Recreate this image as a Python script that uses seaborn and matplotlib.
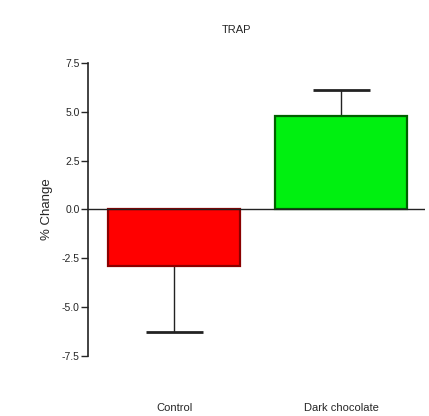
import numpy as np
import matplotlib
matplotlib.use("Agg")
import matplotlib.pyplot as plt
import seaborn as sns

# data
groups = ["Control", "Dark chocolate"]
means = [-2.87, 4.77]
err_ends = [-6.25, 6.10]   # tip of the one-sided error bar
bar_colors = ["#ff0000", "#00f010"]
edge_colors = ["#8a0000", "#006000"]
yticks = [-7.5, -5.0, -2.5, 0.0, 2.5, 5.0, 7.5]

sns.set_style("white")
plt.rcParams['font.family'] = ['Liberation Sans', 'DejaVu Sans']

fig = plt.figure(figsize=(4.29, 4.16), dpi=100)
ax = fig.add_axes([88 / 429, 1 - 356 / 416, (425 - 88) / 429, (356 - 63) / 416])

sns.barplot(x=groups, y=means, hue=groups, palette=bar_colors, legend=False,
            width=0.79, ax=ax, saturation=1, zorder=2)
for patch, ec in zip(ax.patches, edge_colors):
    patch.set_edgecolor(ec)
    patch.set_linewidth(1.6)

# one-sided error bars (away from zero)
xpos = np.arange(len(groups))
ax.vlines(xpos, means, err_ends, color="#222222", lw=1.0, zorder=1)
ax.hlines(err_ends, xpos - 0.17, xpos + 0.17, color="#222222", lw=2.0, zorder=1)
ax.axhline(0, color="#222222", lw=1.0, zorder=3)

ax.set_xlim(-0.515, 1.5)
ax.set_ylim(-7.5, 7.5)
ax.set_yticks(yticks)
ax.set_yticklabels([f"{v:.1f}" for v in yticks], fontsize=7.5)
ax.tick_params(axis="y", direction="out", length=5, width=1, left=True, pad=1)
ax.tick_params(axis="x", length=0, pad=34, labelsize=8)
for s in ["top", "right", "bottom"]:
    ax.spines[s].set_visible(False)
ax.spines["left"].set_linewidth(1.2)
ax.spines["left"].set_color("#222222")
ax.set_ylabel("% Change", fontsize=9.5, labelpad=6)
fig.text(236 / 429, 1 - 30 / 416, "TRAP", ha="center", va="center", fontsize=8)

fig.savefig("out.png", dpi=100)
